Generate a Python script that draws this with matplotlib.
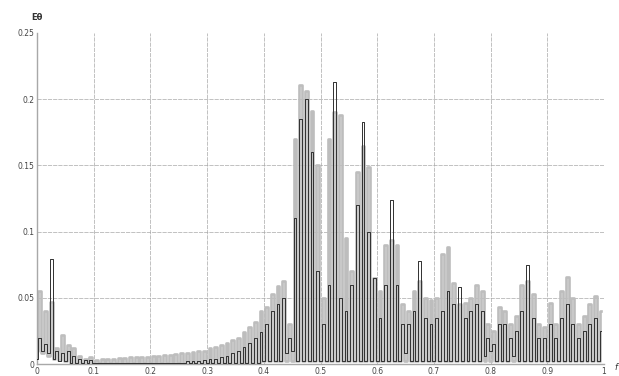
import numpy as np
import matplotlib
matplotlib.use("Agg")
import matplotlib.pyplot as plt

# =======================
# dados (picos e vales a cada 0.01)
# =======================
# picos da serie cinza em x = 0.005, 0.015, ..., 0.995
cinza_picos = [
    0.055, 0.040, 0.047, 0.012, 0.022, 0.014, 0.012, 0.006, 0.004, 0.005,
    0.003, 0.0035, 0.004, 0.004, 0.0045, 0.0045, 0.005, 0.005, 0.0055, 0.0055,
    0.006, 0.006, 0.0065, 0.007, 0.0075, 0.008, 0.0085, 0.009, 0.0095, 0.010,
    0.012, 0.013, 0.014, 0.016, 0.018, 0.020, 0.024, 0.028, 0.032, 0.040,
    0.043, 0.053, 0.059, 0.063, 0.030, 0.170, 0.211, 0.206, 0.191, 0.150,
    0.050, 0.170, 0.190, 0.188, 0.095, 0.070, 0.145, 0.165, 0.149, 0.065,
    0.055, 0.090, 0.094, 0.090, 0.045, 0.040, 0.055, 0.063, 0.050, 0.048,
    0.050, 0.083, 0.088, 0.061, 0.045, 0.046, 0.050, 0.060, 0.055, 0.030,
    0.025, 0.043, 0.040, 0.030, 0.036, 0.060, 0.063, 0.053, 0.030, 0.028,
    0.046, 0.030, 0.055, 0.066, 0.050, 0.030, 0.036, 0.045, 0.051, 0.040,
]
# vales da serie cinza em x = 0.00, 0.01, ..., 0.99
cinza_vales = [
    0.010, 0.008, 0.006, 0.004, 0.003, 0.002, 0.001, 0.001, 0.001, 0.001,
    0.001, 0.001, 0.001, 0.001, 0.001, 0.001, 0.001, 0.001, 0.001, 0.001,
    0.001, 0.001, 0.001, 0.001, 0.001, 0.001, 0.001, 0.001, 0.001, 0.001,
    0.001, 0.001, 0.001, 0.001, 0.001, 0.001, 0.001, 0.001, 0.001, 0.001,
    0.002, 0.002, 0.002, 0.002, 0.002, 0.002, 0.002, 0.002, 0.002, 0.002,
    0.002, 0.002, 0.002, 0.002, 0.002, 0.002, 0.002, 0.002, 0.002, 0.002,
    0.002, 0.002, 0.002, 0.002, 0.002, 0.002, 0.002, 0.002, 0.002, 0.002,
    0.002, 0.002, 0.002, 0.002, 0.002, 0.002, 0.002, 0.002, 0.002, 0.002,
    0.002, 0.002, 0.002, 0.002, 0.002, 0.002, 0.002, 0.002, 0.002, 0.002,
    0.002, 0.002, 0.002, 0.002, 0.002, 0.002, 0.002, 0.002, 0.002, 0.002,
]
# picos da serie preta
preto_picos = [
    0.020, 0.015, 0.079, 0.010, 0.008, 0.010, 0.006, 0.004, 0.003, 0.003,
    0.001, 0.001, 0.001, 0.001, 0.001, 0.001, 0.001, 0.001, 0.001, 0.001,
    0.001, 0.001, 0.001, 0.001, 0.001, 0.001, 0.002, 0.002, 0.002, 0.003,
    0.004, 0.004, 0.005, 0.006, 0.008, 0.010, 0.013, 0.016, 0.020, 0.024,
    0.030, 0.040, 0.045, 0.050, 0.020, 0.110, 0.185, 0.200, 0.160, 0.070,
    0.030, 0.060, 0.213, 0.050, 0.040, 0.060, 0.120, 0.183, 0.100, 0.065,
    0.035, 0.060, 0.124, 0.060, 0.030, 0.030, 0.040, 0.078, 0.035, 0.030,
    0.035, 0.040, 0.055, 0.045, 0.058, 0.035, 0.040, 0.045, 0.040, 0.020,
    0.015, 0.030, 0.030, 0.020, 0.025, 0.040, 0.075, 0.035, 0.020, 0.020,
    0.030, 0.020, 0.035, 0.045, 0.030, 0.020, 0.025, 0.030, 0.035, 0.025,
]
preto_vales = [
    0.004, 0.010, 0.008, 0.004, 0.002, 0.002, 0.001, 0.001, 0.001, 0.001,
    0.001, 0.001, 0.001, 0.001, 0.001, 0.001, 0.001, 0.001, 0.001, 0.001,
    0.001, 0.001, 0.001, 0.001, 0.001, 0.001, 0.001, 0.001, 0.001, 0.001,
    0.001, 0.001, 0.001, 0.001, 0.001, 0.001, 0.001, 0.001, 0.001, 0.001,
    0.002, 0.002, 0.002, 0.002, 0.008, 0.010, 0.002, 0.002, 0.002, 0.002,
    0.002, 0.002, 0.002, 0.002, 0.002, 0.002, 0.002, 0.002, 0.002, 0.002,
    0.002, 0.002, 0.002, 0.002, 0.002, 0.008, 0.002, 0.002, 0.002, 0.002,
    0.002, 0.002, 0.002, 0.002, 0.002, 0.002, 0.002, 0.002, 0.002, 0.006,
    0.010, 0.002, 0.002, 0.002, 0.006, 0.002, 0.002, 0.002, 0.002, 0.002,
    0.002, 0.002, 0.002, 0.002, 0.002, 0.002, 0.002, 0.002, 0.002, 0.002,
]

x_ticks = [0, 0.1, 0.2, 0.3, 0.4, 0.5, 0.6, 0.7, 0.8, 0.9, 1]
x_tick_labels = ['0', '0.1', '0.2', '0.3', '0.4', '0.5', '0.6', '0.7', '0.8', '0.9', '1']
y_ticks = [0, 0.05, 0.1, 0.15, 0.2, 0.25]
y_tick_labels = ['0', '0.05', '0.1', '0.15', '0.2', '0.25']


# =======================
# junta vales e picos numa linha so (zigue-zague)
# =======================
def montar_serie(picos, vales):
    n = len(picos)
    x = np.empty(2 * n)
    y = np.empty(2 * n)
    x[0::2] = np.arange(n) * 0.01
    x[1::2] = np.arange(n) * 0.01 + 0.005
    y[0::2] = vales
    y[1::2] = picos
    return x, y


fig = plt.figure(figsize=(6.19, 3.76), dpi=100)
ax = fig.add_axes([37 / 619, 12 / 376, 567 / 619, 331 / 376])

xc, yc = montar_serie(cinza_picos, cinza_vales)
xp, yp = montar_serie(preto_picos, preto_vales)
ax.plot(xc, yc, color='#bdbdbd', lw=1.9, drawstyle='steps-mid', zorder=2)
ax.plot(xp, yp, color='#303030', lw=0.7, drawstyle='steps-mid', zorder=3)

ax.set_xlim(0, 1)
ax.set_ylim(0, 0.25)
ax.set_xticks(x_ticks)
ax.set_xticklabels(x_tick_labels)
ax.set_yticks(y_ticks)
ax.set_yticklabels(y_tick_labels)
ax.tick_params(length=0, labelsize=5.5, colors='#444444', pad=2)

for v in x_ticks[1:-1]:
    ax.axvline(v, color='#a8a8a8', lw=0.5, ls=(0, (6, 1.5)), zorder=1)
for v in y_ticks[1:-1]:
    ax.axhline(v, color='#a8a8a8', lw=0.5, ls=(0, (6, 1.5)), zorder=1)

for lado in ['top', 'right']:
    ax.spines[lado].set_visible(False)
for lado in ['left', 'bottom']:
    ax.spines[lado].set_color('#a8a8a8')
    ax.spines[lado].set_linewidth(1.0)

fig.text(37 / 619, 1 - 17 / 376, 'Eθ', fontsize=6, fontweight='bold',
         color='#333333', ha='center', va='center')
fig.text(616 / 619, 1 - 368 / 376, 'f', fontsize=6, style='italic',
         color='#333333', ha='center', va='center')

fig.savefig('out.png', dpi=100)
